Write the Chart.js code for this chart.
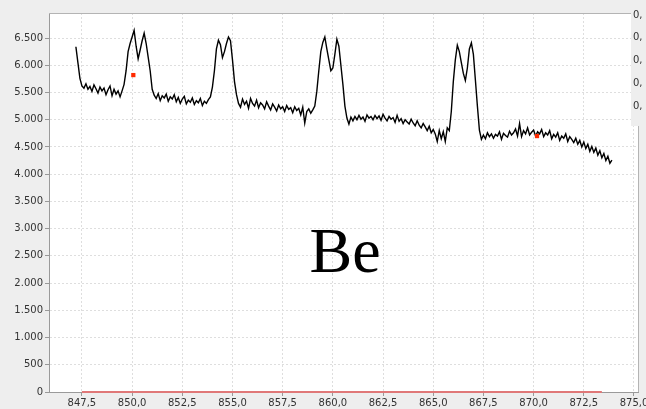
<!DOCTYPE html>
<html>
<head>
<meta charset="utf-8">
<script src="https://cdn.jsdelivr.net/npm/chart.js@4/dist/chart.umd.min.js"></script>
<style>
  body { margin: 0; background: #eeeeee; }
  .chart-box { width: 646px; height: 409px; position: relative; }
</style>
</head>
<body>
<div class="chart-box"><canvas id="Spectrum-Chart"></canvas></div>
<script>
// Data
// spectrum sampled every 0.1 nm starting at 847.2
const wlStart = 847.2
const wlStep = 0.1
const intensity = [
  6340, 6050, 5760, 5620, 5580, 5660, 5560, 5610,
  5520, 5640, 5570, 5490, 5600, 5530, 5580, 5460, 5550, 5620,
  5440, 5560, 5470, 5530, 5420, 5530, 5650, 5900, 6250, 6400,
  6520, 6640, 6350, 6120, 6280, 6450, 6590, 6400, 6150, 5900,
  5560, 5450, 5390, 5480, 5350, 5440, 5400, 5470, 5340, 5420,
  5380, 5460, 5330, 5410, 5300, 5380, 5430, 5290, 5360, 5320,
  5400, 5280, 5350, 5310, 5390, 5260, 5340, 5300, 5370, 5420,
  5600, 5900, 6300, 6460, 6380, 6140, 6250, 6400, 6520, 6450,
  6100, 5700, 5460, 5300, 5230, 5380, 5280, 5340, 5210, 5390,
  5300, 5250, 5360, 5220, 5310, 5270, 5200, 5330, 5250, 5180,
  5290, 5230, 5160, 5270, 5200, 5240, 5150, 5260, 5190, 5220,
  5130, 5240, 5170, 5210, 5090, 5230, 4940, 5150, 5200, 5120,
  5180, 5250, 5520, 5900, 6250, 6420, 6520, 6300, 6100, 5900,
  5950, 6200, 6480, 6350, 6000, 5650, 5250, 5030, 4920, 5050,
  4980, 5060, 5000, 5080, 5010, 5050, 4970, 5090, 5030, 5060,
  5000, 5080, 5020, 5070, 4990, 5100, 5030, 4980, 5060, 5010,
  5040, 4950, 5080, 4970, 5020, 4930, 5000, 4960, 4920, 5010,
  4940, 4890, 4980, 4900, 4850, 4930, 4870, 4800, 4880, 4760,
  4820, 4740, 4600, 4800, 4650, 4780, 4600, 4850, 4800, 5150,
  5700, 6100, 6370, 6250, 6050, 5850, 5720, 5950, 6300, 6410,
  6200, 5730, 5250, 4810, 4640, 4720, 4650, 4760, 4690, 4740,
  4660, 4730, 4700, 4780, 4640, 4750, 4710, 4680, 4790, 4720,
  4760, 4830, 4700, 4930, 4690, 4800, 4740, 4850, 4720, 4770,
  4810, 4700, 4780, 4740, 4820, 4690, 4760, 4720, 4800, 4650,
  4730, 4680, 4760, 4620, 4700, 4660, 4740, 4600, 4690, 4640,
  4580, 4660, 4550, 4620, 4500, 4590, 4470, 4550, 4420, 4510,
  4400, 4480, 4350, 4430, 4300, 4380, 4250, 4330, 4200, 4260
]
// red marked points
const markerX = [850.06, 870.17]
const markerY = [5820, 4700]
// red baseline
const baseX = [847.5, 873.4]
const baseY = [0, 0]
// axis ticks
const xTicks = [847.5, 850.0, 852.5, 855.0, 857.5, 860.0, 862.5, 865.0, 867.5, 870.0, 872.5, 875.0]
const yTicks = [0, 500, 1000, 1500, 2000, 2500, 3000, 3500, 4000, 4500, 5000, 5500, 6000, 6500]
const legendRows = ['0,', '0,', '0,', '0,', '0,']
const labelText = 'Be'

// helpers
function fmtThousands(v) {
  return String(Math.round(v)).replace(/\B(?=(\d{3})+(?!\d))/g, '.')
}
function fmtDecimal(v) {
  return v.toFixed(1).replace('.', ',')
}

const spectrumPoints = intensity.map(function (v, i) {
  return { x: +(wlStart + i * wlStep).toFixed(2), y: v }
})
const markerPoints = markerX.map(function (x, i) { return { x: x, y: markerY[i] } })
const basePoints = baseX.map(function (x, i) { return { x: x, y: baseY[i] } })

// plot background, frame, big label and the clipped legend panel
const decorPlugin = {
  id: 'decor',
  beforeDraw: function (chart) {
    const ctx = chart.ctx
    const a = chart.chartArea
    ctx.save()
    ctx.fillStyle = '#ffffff'
    ctx.fillRect(a.left, a.top, a.right - a.left, a.bottom - a.top)
    ctx.restore()
  },
  afterDraw: function (chart) {
    const ctx = chart.ctx
    const a = chart.chartArea
    ctx.save()
    ctx.strokeStyle = '#b4b4b4'
    ctx.lineWidth = 1
    ctx.beginPath()
    ctx.moveTo(a.left, a.top + 0.5)
    ctx.lineTo(a.right + 0.5, a.top + 0.5)
    ctx.lineTo(a.right + 0.5, a.bottom)
    ctx.stroke()

    ctx.fillStyle = '#000000'
    ctx.font = '64px "Liberation Serif", "Times New Roman", serif'
    ctx.textAlign = 'center'
    ctx.textBaseline = 'alphabetic'
    ctx.fillText(labelText, 345, 272)

    // legend panel cut off at the right edge
    ctx.fillStyle = '#eeeeee'
    ctx.fillRect(631, 0, 15, 126)
    ctx.fillStyle = '#333333'
    ctx.font = '10px "DejaVu Sans", sans-serif'
    ctx.textAlign = 'left'
    ctx.textBaseline = 'middle'
    legendRows.forEach(function (t, i) {
      ctx.fillText(t, 633, 15 + i * 22.8)
    })
    ctx.restore()
  }
}

const tickFont = { family: 'DejaVu Sans', size: 10 }

new Chart(document.getElementById('Spectrum-Chart'), {
  type: 'line',
  data: {
    datasets: [
      {
        label: 'marks',
        data: markerPoints,
        showLine: false,
        pointStyle: 'rect',
        pointRadius: 3,
        pointBackgroundColor: '#ff2a00',
        pointBorderWidth: 0,
        order: 0
      },
      {
        label: 'spectrum',
        data: spectrumPoints,
        borderColor: '#000000',
        borderWidth: 1.4,
        pointRadius: 0,
        tension: 0,
        order: 1
      },
      {
        label: 'zero',
        data: basePoints,
        borderColor: '#e07878',
        borderWidth: 2,
        pointRadius: 0,
        clip: false,
        order: 2
      }
    ]
  },
  options: {
    responsive: true,
    maintainAspectRatio: false,
    animation: false,
    layout: { padding: { top: 13, right: 8, left: 0, bottom: 0 } },
    plugins: {
      legend: { display: false },
      tooltip: { enabled: false }
    },
    scales: {
      x: {
        type: 'linear',
        min: 845.86,
        max: 875.2,
        afterBuildTicks: function (scale) {
          scale.ticks = xTicks.map(function (v) { return { value: v } })
        },
        afterFit: function (scale) {
          scale.height = 17
          scale.paddingLeft = 0
          scale.paddingRight = 0
        },
        ticks: {
          font: tickFont,
          color: '#333333',
          padding: 1,
          maxRotation: 0,
          autoSkip: false,
          callback: function (v) { return fmtDecimal(v) }
        },
        grid: {
          color: '#dedede',
          tickColor: '#999999',
          tickLength: 4
        },
        border: { color: '#9a9a9a', dash: [2, 2] }
      },
      y: {
        min: 0,
        max: 6960,
        afterBuildTicks: function (scale) {
          scale.ticks = yTicks.map(function (v) { return { value: v } })
        },
        afterFit: function (scale) {
          scale.width = 49
          scale.paddingTop = 0
          scale.paddingBottom = 0
        },
        ticks: {
          font: tickFont,
          color: '#333333',
          padding: 2,
          autoSkip: false,
          callback: function (v) { return fmtThousands(v) }
        },
        grid: {
          color: '#dedede',
          tickColor: '#999999',
          tickLength: 4
        },
        border: { color: '#9a9a9a', dash: [2, 2] }
      }
    }
  },
  plugins: [decorPlugin]
})
</script>
</body>
</html>
